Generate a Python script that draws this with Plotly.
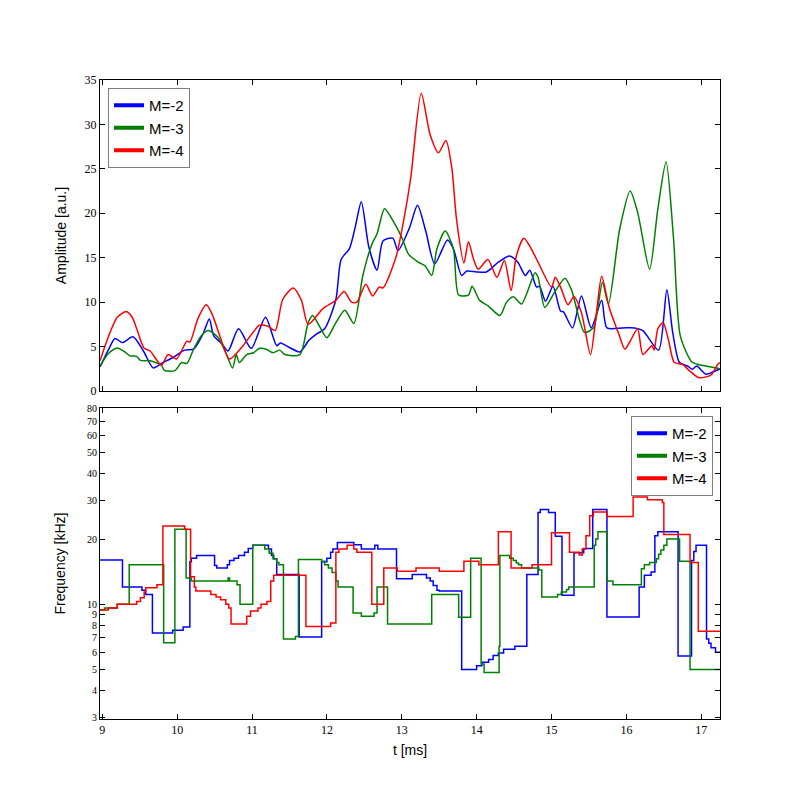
import numpy as np
import plotly.graph_objects as go

# ---------------- Top panel: amplitude (smooth curves) ----------------
amp_t_m2 = [8.97, 9.08, 9.17, 9.27, 9.41, 9.55, 9.68, 9.79, 9.95, 10.10, 10.22, 10.35, 10.43, 10.49, 10.60,
            10.68, 10.82, 10.99, 11.18, 11.33, 11.38, 11.50, 11.64, 11.76, 11.86, 11.97, 12.12, 12.19, 12.30,
            12.38, 12.46, 12.56, 12.67, 12.75, 12.88, 12.95, 13.10, 13.21, 13.32, 13.44, 13.61, 13.69, 13.80,
            13.87, 14.00, 14.13, 14.29, 14.44, 14.55, 14.65, 14.71, 14.80, 14.84, 14.92, 15.02, 15.12, 15.16,
            15.28, 15.40, 15.53, 15.67, 15.74, 15.95, 16.11, 16.22, 16.43, 16.54, 16.62, 16.71, 16.82, 16.88,
            16.94, 17.06, 17.20, 17.25]
amp_v_m2 = [2.7, 4.6, 5.9, 5.45, 6.1, 4.5, 2.6, 3.1, 3.8, 4.6, 4.7, 6.5, 8.1, 6.2, 5.3,
            4.5, 7.0, 4.8, 8.3, 5.1, 5.4, 4.9, 4.4, 5.7, 6.4, 7.0, 10.3, 14.8, 16.0,
            18.5, 21.3, 16.2, 13.6, 16.9, 17.2, 15.8, 18.3, 20.9, 18.0, 14.3, 17.0, 16.0, 13.0,
            13.5, 13.4, 13.4, 14.5, 15.2, 14.5, 13.0, 13.6, 11.7, 11.8, 10.1, 11.8, 9.0, 8.9,
            7.1, 10.7, 7.1, 10.2, 7.1, 7.1, 7.1, 6.8, 4.6, 11.4, 6.5, 3.2, 2.8, 2.45,
            2.8, 1.9, 2.3, 2.5]

amp_t_m3 = [8.97, 9.08, 9.20, 9.30, 9.37, 9.46, 9.51, 9.64, 9.79, 9.83, 9.97, 10.06, 10.13, 10.22, 10.32,
            10.42, 10.55, 10.65, 10.74, 10.79, 10.83, 10.93, 11.02, 11.10, 11.19, 11.28, 11.37, 11.44, 11.64,
            11.75, 11.81, 11.90, 12.00, 12.12, 12.24, 12.36, 12.48, 12.60, 12.67, 12.77, 12.88, 13.01, 13.09,
            13.22, 13.31, 13.40, 13.47, 13.58, 13.69, 13.76, 13.89, 13.94, 14.04, 14.15, 14.31, 14.40, 14.49,
            14.60, 14.78, 14.82, 14.91, 15.04, 15.18, 15.27, 15.44, 15.56, 15.68, 15.76, 15.91, 16.05, 16.15,
            16.31, 16.42, 16.53, 16.63, 16.72, 16.87, 16.95, 17.20, 17.25]
amp_v_m3 = [2.8, 4.2, 4.85, 4.4, 3.95, 3.9, 3.45, 3.4, 2.9, 2.33, 2.3, 3.2, 3.1, 4.7, 6.2,
            6.8, 6.0, 4.3, 2.6, 4.1, 3.2, 4.1, 4.3, 4.8, 4.7, 4.3, 4.6, 4.1, 4.1,
            7.7, 8.5, 7.3, 6.0, 7.7, 9.1, 7.6, 13.0, 16.5, 17.7, 20.5, 19.2, 17.1, 15.4,
            14.5, 14.1, 13.0, 16.0, 18.0, 16.0, 10.8, 10.8, 11.8, 10.2, 9.6, 8.5, 10.0, 10.6,
            9.8, 13.3, 12.8, 9.4, 11.1, 12.7, 11.3, 6.6, 7.1, 12.2, 9.8, 18.2, 22.5, 20.1,
            13.7, 20.5, 25.8, 17.1, 6.2, 3.3, 3.0, 2.6, 2.5]

amp_t_m4 = [8.97, 9.10, 9.20, 9.32, 9.40, 9.46, 9.56, 9.64, 9.79, 9.88, 9.99, 10.13, 10.17, 10.28, 10.39,
            10.47, 10.57, 10.70, 10.88, 11.10, 11.21, 11.31, 11.41, 11.55, 11.66, 11.75, 11.95, 12.12, 12.23,
            12.33, 12.40, 12.52, 12.61, 12.70, 12.75, 12.92, 13.03, 13.12, 13.26, 13.38, 13.49, 13.59, 13.67,
            13.73, 13.83, 13.89, 13.96, 14.02, 14.15, 14.27, 14.37, 14.46, 14.53, 14.63, 14.73, 14.82, 15.00,
            15.05, 15.13, 15.22, 15.30, 15.40, 15.52, 15.60, 15.67, 15.77, 15.89, 15.98, 16.05, 16.15, 16.22,
            16.34, 16.37, 16.42, 16.49, 16.56, 16.64, 16.75, 16.84, 16.97, 17.13, 17.22, 17.25]
amp_v_m4 = [3.4, 6.5, 8.3, 8.95, 8.3, 7.0, 4.8, 4.5, 2.9, 4.1, 3.6, 5.6, 5.5, 8.2, 9.7,
            8.6, 6.2, 3.6, 5.1, 7.4, 7.3, 6.8, 10.3, 11.6, 10.2, 7.5, 9.3, 10.2, 11.2,
            10.0, 10.0, 12.0, 10.7, 11.7, 11.6, 15.0, 19.4, 24.0, 33.5, 28.8, 26.8, 28.2, 25.0,
            19.4, 14.4, 16.8, 14.8, 13.7, 14.8, 12.8, 14.7, 11.3, 15.2, 17.2, 16.0, 14.5, 11.7,
            12.8, 11.5, 9.7, 10.6, 8.8, 4.1, 8.8, 12.9, 9.4, 6.6, 4.7, 5.6, 7.0, 4.1,
            5.1, 4.6, 7.0, 7.7, 5.8, 3.2, 3.0, 2.3, 1.5, 1.8, 3.0, 3.2]

# ---------------- Bottom panel: frequency (step curves) ----------------
frq_t_m2 = [8.97, 9.27, 9.53, 9.58, 9.67, 9.94, 10.08, 10.17, 10.19, 10.26, 10.50, 10.53, 10.67, 10.70, 10.76,
            10.82, 10.90, 10.95, 11.01, 11.22, 11.26, 11.29, 11.33, 11.63, 11.93, 12.00, 12.05, 12.08, 12.14,
            12.36, 12.46, 12.64, 12.68, 12.93, 13.14, 13.33, 13.38, 13.42, 13.47, 13.50, 13.80, 14.00, 14.07,
            14.16, 14.22, 14.29, 14.36, 14.51, 14.67, 14.82, 14.85, 14.96, 15.05, 15.14, 15.30, 15.43, 15.55,
            15.74, 16.17, 16.24, 16.33, 16.38, 16.42, 16.69, 16.87, 16.90, 16.93, 17.07, 17.10, 17.13, 17.19, 17.25]
frq_v_m2 = [16.0, 12.0, 11.6, 11.1, 7.37, 7.58, 7.85, 15.7, 16.3, 16.8, 15.1, 14.7, 15.2, 15.9, 16.3,
            16.8, 17.4, 18.1, 18.7, 18.0, 16.8, 16.2, 13.7, 7.06, 15.7, 16.3, 17.4, 18.0, 19.3,
            18.8, 18.0, 18.7, 18.0, 13.1, 13.7, 13.2, 12.8, 12.2, 11.6, 11.5, 5.0, 5.2, 5.4,
            5.56, 5.8, 5.96, 6.2, 6.4, 13.7, 26.5, 27.4, 26.5, 20.6, 11.0, 17.3, 18.1, 27.4,
            8.72, 12.0, 13.6, 14.1, 20.7, 21.6, 5.77, 15.9, 17.5, 18.7, 6.9, 6.6, 6.3, 6.0, 6.0]

frq_t_m3 = [8.97, 9.03, 9.20, 9.36, 9.82, 9.97, 10.12, 10.19, 10.68, 10.70, 10.80, 10.84, 11.01, 11.17, 11.23,
            11.28, 11.33, 11.36, 11.42, 11.58, 11.62, 11.93, 11.97, 12.02, 12.07, 12.12, 12.15, 12.35, 12.46,
            12.63, 12.67, 12.81, 13.40, 13.76, 13.92, 14.06, 14.10, 14.30, 14.31, 14.44, 14.49, 14.53, 14.56,
            14.60, 14.83, 14.87, 15.08, 15.13, 15.20, 15.23, 15.57, 15.59, 15.62, 15.74, 15.82, 16.20, 16.24,
            16.31, 16.40, 16.43, 16.46, 16.50, 16.54, 16.71, 16.85, 17.25]
frq_v_m3 = [9.4, 9.6, 10.0, 15.2, 6.64, 22.2, 13.2, 12.8, 13.2, 12.8, 12.3, 10.0, 18.7, 18.0, 17.2,
            16.2, 15.6, 15.2, 6.9, 7.1, 16.1, 15.8, 15.2, 14.7, 14.0, 12.8, 12.0, 9.1, 8.8,
            9.1, 12.0, 8.1, 11.1, 8.7, 16.3, 5.3, 4.84, 6.4, 16.8, 16.3, 15.9, 15.5, 15.2,
            14.7, 14.4, 10.8, 11.1, 11.4, 11.7, 12.0, 18.7, 20.0, 21.6, 12.8, 12.3, 14.6, 15.2,
            15.6, 16.2, 17.0, 17.8, 18.7, 20.0, 15.8, 5.0, 5.0]

frq_t_m4 = [8.97, 9.08, 9.20, 9.46, 9.51, 9.56, 9.58, 9.73, 9.81, 10.10, 10.18, 10.23, 10.25, 10.45, 10.52,
            10.58, 10.65, 10.69, 10.72, 10.93, 10.98, 11.08, 11.12, 11.20, 11.25, 11.29, 11.72, 12.05, 12.12,
            12.16, 12.27, 12.36, 12.40, 12.60, 12.76, 12.94, 13.19, 13.50, 13.83, 14.03, 14.29, 14.46, 14.74,
            15.00, 15.24, 15.37, 15.41, 15.46, 15.51, 15.56, 15.74, 16.09, 16.28, 16.48, 16.50, 16.85, 16.96, 17.25]
frq_v_m4 = [9.4, 9.6, 10.0, 10.3, 10.7, 11.4, 11.9, 12.3, 23.0, 22.2, 13.4, 12.0, 11.5, 11.1, 10.8,
            10.5, 10.0, 9.6, 8.1, 8.8, 9.3, 9.6, 10.0, 10.3, 12.8, 13.6, 7.9, 8.2, 17.4,
            18.0, 18.7, 18.0, 17.4, 10.0, 14.7, 14.2, 14.7, 14.2, 15.8, 15.2, 21.6, 14.7, 15.2,
            21.4, 17.4, 16.9, 18.0, 20.7, 25.6, 26.7, 25.4, 31.3, 30.4, 29.5, 21.0, 15.6, 7.5, 7.5]

series_names = ["M=-2", "M=-3", "M=-4"]
colors = ["#0000ff", "#008000", "#ff0000"]

x_ticks = [9, 10, 11, 12, 13, 14, 15, 16, 17]
amp_ticks = [0, 5, 10, 15, 20, 25, 30, 35]
freq_ticks = [3, 4, 5, 6, 7, 8, 9, 10, 20, 30, 40, 50, 60, 70, 80]

amp_data = [(amp_t_m2, amp_v_m2), (amp_t_m3, amp_v_m3), (amp_t_m4, amp_v_m4)]
frq_data = [(frq_t_m2, frq_v_m2), (frq_t_m3, frq_v_m3), (frq_t_m4, frq_v_m4)]

fig = go.Figure()

for (t, v), name, c in zip(amp_data, series_names, colors):
    fig.add_trace(go.Scatter(x=t, y=v, mode="lines", name=name, showlegend=False,
                             line=dict(color=c, width=1.5, shape="spline", smoothing=0.7),
                             xaxis="x", yaxis="y"))
for (t, v), name, c in zip(frq_data, series_names, colors):
    fig.add_trace(go.Scatter(x=t, y=v, mode="lines", name=name, showlegend=False,
                             line=dict(color=c, width=1.5, shape="hv"),
                             xaxis="x2", yaxis="y2"))
# legend entries (thick sample lines as in the original legends)
for leg, xa, ya in [("legend", "x", "y"), ("legend2", "x2", "y2")]:
    for name, c in zip(series_names, colors):
        fig.add_trace(go.Scatter(x=[None], y=[None], mode="lines", name=name, legend=leg,
                                 line=dict(color=c, width=4), xaxis=xa, yaxis=ya))

serif = dict(family="Liberation Serif, DejaVu Serif, serif", size=12, color="black")
serif_small = dict(family="Liberation Serif, DejaVu Serif, serif", size=10, color="black")
sans = dict(family="Liberation Sans, Arial, sans-serif", size=14, color="black")

axis_common = dict(showgrid=False, zeroline=False, showline=True, linecolor="black", linewidth=1,
                   mirror="ticks", ticks="inside", ticklen=5, tickcolor="black", tickwidth=1,
                   automargin=False)

# the page adds an 8 px body margin; figure is 792 px so that it sits where the original does
W = 792
def dx(px):
    return (px - 8) / W
def dy(py):
    return 1 - (py - 8) / W

xr = [8.97, 17.25]
fig.update_layout(
    width=W, height=W,
    margin=dict(l=0, r=0, t=0, b=0),
    paper_bgcolor="white", plot_bgcolor="white",
    xaxis=dict(domain=[dx(100), dx(720)], range=xr, tickvals=x_ticks, showticklabels=False,
               anchor="y", tickfont=serif, **axis_common),
    yaxis=dict(domain=[dy(391), dy(80)], range=[0, 35], tickvals=amp_ticks, anchor="x",
               tickfont=serif,
               title=dict(text="Amplitude [a.u.]", font=sans, standoff=14), **axis_common),
    xaxis2=dict(domain=[dx(100), dx(720)], range=xr, tickvals=x_ticks, anchor="y2",
                tickfont=serif,
                title=dict(text="t [ms]", font=sans, standoff=8), **axis_common),
    yaxis2=dict(domain=[dy(719), dy(408)], type="log", range=[np.log10(2.95), np.log10(80.6)],
                tickvals=freq_ticks, ticktext=[str(v) for v in freq_ticks], anchor="x2",
                tickfont=serif_small,
                title=dict(text="Frequency [kHz]", font=sans, standoff=18), **axis_common),
    legend=dict(x=dx(108), y=dy(88), xanchor="left", yanchor="top", bgcolor="white",
                bordercolor="#7f7f7f", borderwidth=1, tracegroupgap=0,
                font=dict(family="Liberation Sans, Arial, sans-serif", size=15, color="black")),
    legend2=dict(x=dx(713), y=dy(416), xanchor="right", yanchor="top", bgcolor="white",
                 bordercolor="#7f7f7f", borderwidth=1, tracegroupgap=0,
                 font=dict(family="Liberation Sans, Arial, sans-serif", size=15, color="black")),
)

fig.write_html("out.html")
